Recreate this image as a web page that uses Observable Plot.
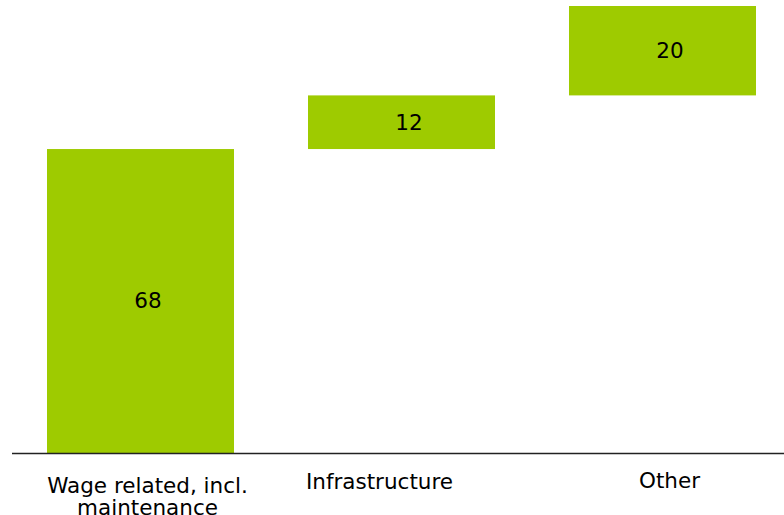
<!DOCTYPE html>
<html>
<head>
<meta charset="utf-8">
<script src="https://cdn.jsdelivr.net/npm/d3@7"></script>
<script src="https://cdn.jsdelivr.net/npm/@observablehq/plot@0.6"></script>
<style>
  html, body { margin: 0; padding: 0; background: #fff; }
  #chart svg { display: block; }
</style>
</head>
<body>
<div id="chart"></div>
<script>
const categories = ["Wage related, incl.\nmaintenance", "Infrastructure", "Other"];
const values = [68, 12, 20];

let acc = 0;
const rows = categories.map((c, i) => {
  const start = acc;
  acc += values[i];
  return {category: c, start, end: acc, value: values[i], mid: (start + acc) / 2};
});

// per-label nudges (style only)
const labelNudge = [{dx: 6.5, dy: 24}, {dx: -22.5, dy: 20}, {dx: 6.5, dy: 19}];

const FS = 21.5;
const chart = Plot.plot({
  width: 784,
  height: 515,
  marginTop: 6,
  marginBottom: 62,
  marginLeft: 12,
  marginRight: 0,
  style: {fontFamily: "DejaVu Sans, Verdana, sans-serif", fontSize: FS + "px", color: "#000", background: "#fff"},
  x: {domain: categories, range: [9, 794], paddingInner: 0.2835, paddingOuter: 0.1418, axis: null},
  y: {domain: [0, 100], axis: null},
  marks: [
    Plot.barY(rows, {x: "category", y1: "start", y2: "end", fill: "#9ECB00"}),
    Plot.text(rows, {x: "category", y: "mid", text: d => String(d.value), fontSize: FS, fill: "#000", dx: 7}),
    Plot.ruleY([0], {stroke: "#222", strokeWidth: 1.5}),
    ...categories.map((c, i) =>
      Plot.text([c], {x: d => d, text: d => d, frameAnchor: "bottom", lineAnchor: "top",
        dx: labelNudge[i].dx, dy: labelNudge[i].dy, fontSize: FS, lineHeight: 1.03, fill: "#000"})
    )
  ]
});
document.getElementById("chart").appendChild(chart);
</script>
</body>
</html>
